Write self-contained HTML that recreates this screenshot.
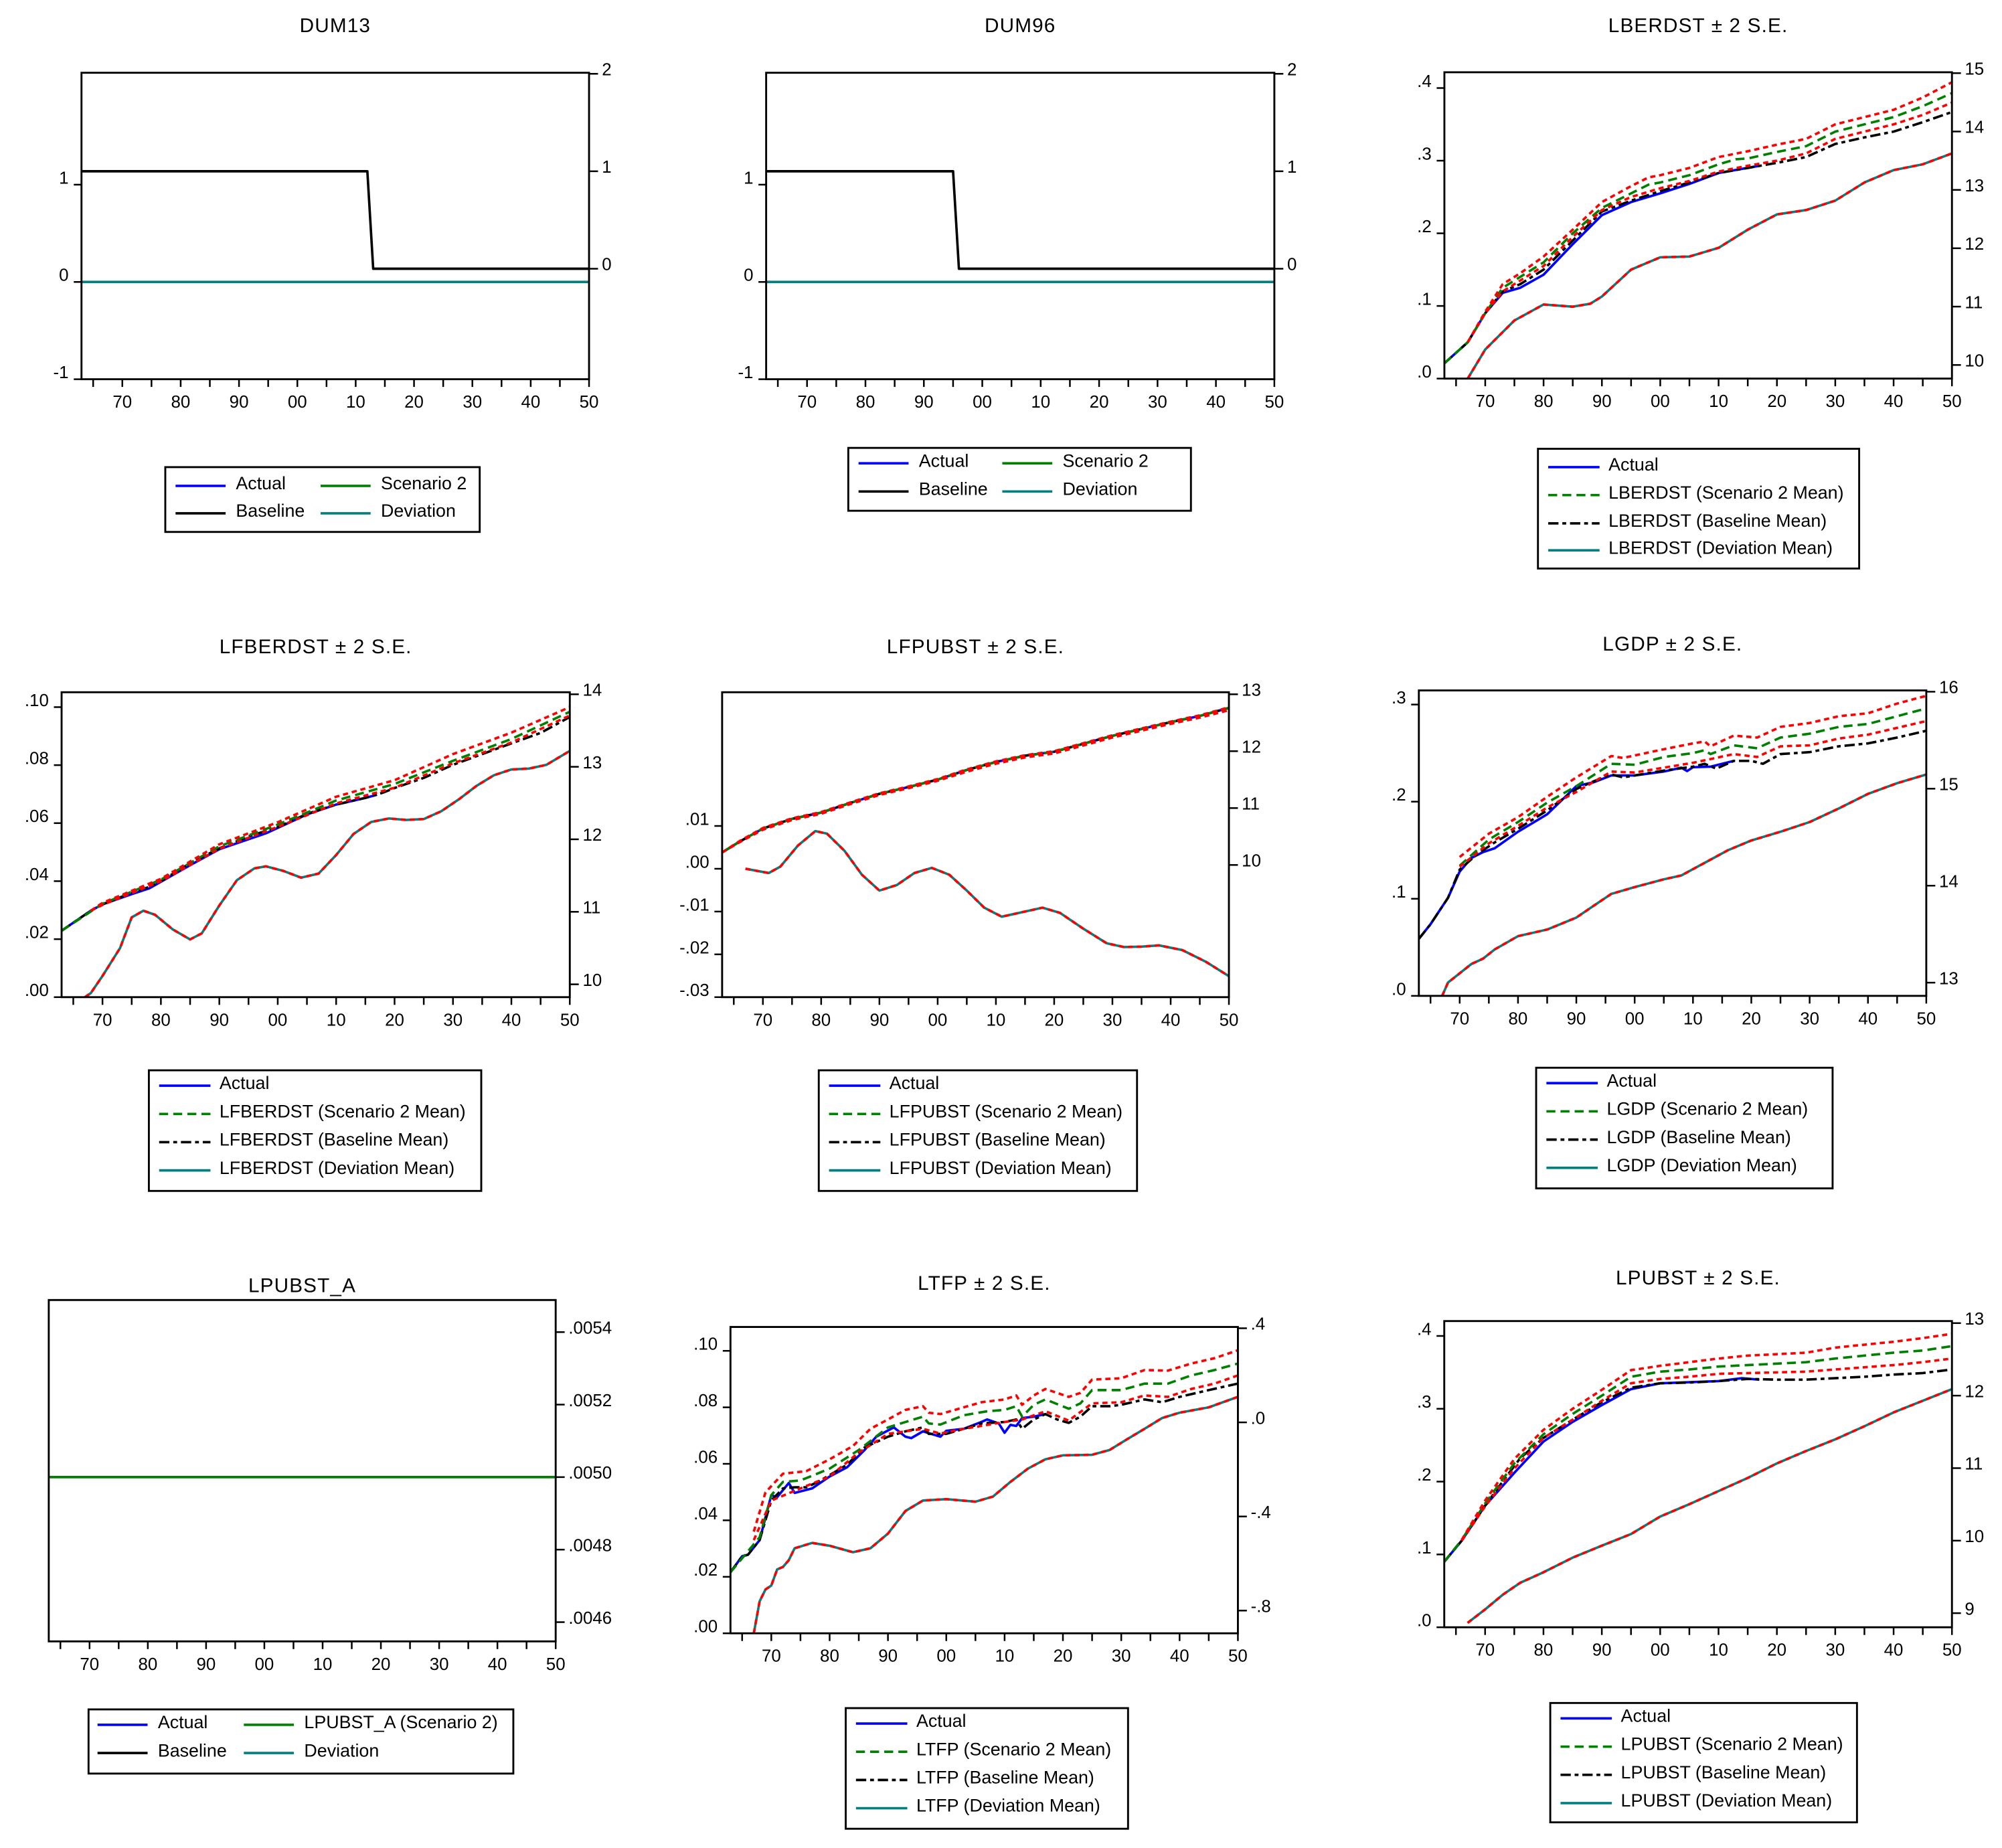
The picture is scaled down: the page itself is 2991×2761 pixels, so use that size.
<!DOCTYPE html>
<html><head><meta charset="utf-8"><style>
html,body{margin:0;padding:0;background:#fff;}
svg{display:block;}
text{font-family:"Liberation Sans",Arial,sans-serif;fill:#000;}
</style></head><body>
<svg id="fig" xmlns="http://www.w3.org/2000/svg" width="2991" height="2761" viewBox="0 0 1560 1440" preserveAspectRatio="none"></svg>
<script>
// ---------- DATA ----------
const p1BaseYears=[1963,2012,2013,2050]; const p1Base=[1,1,0,0];
const p1DevYears=[1963,2050]; const p1Dev=[0,0];
const p2BaseYears=[1963,1995,1996,2050]; const p2Base=[1,1,0,0];
const p2DevYears=[1963,2050]; const p2Dev=[0,0];
const p3BaseYears=[1963,1967,1970,1973,1976,1980,1985,1990,1995,2000,2005,2010,2015,2020,2025,2030,2035,2040,2045,2050];
const p3Base=[.021,.05,.09,.12,.13,.15,.19,.23,.245,.258,.27,.283,.29,.297,.305,.323,.332,.34,.353,.367];
const p3ActYears=[1963,1967,1970,1973,1976,1980,1985,1990,1995,2000,2005,2010,2017];
const p3Act=[.021,.05,.09,.118,.125,.143,.185,.225,.243,.255,.268,.283,.293];
const p3ScenYears=[1963,1967,1970,1973,1976,1980,1985,1990,1995,1998,2000,2005,2010,2013,2015,2020,2025,2030,2035,2040,2045,2050];
const p3Scen=[.021,.05,.09,.125,.14,.16,.2,.235,.255,.267,.27,.28,.295,.302,.303,.312,.32,.34,.35,.36,.375,.393];
const p3UpYears=[1967,1970,1973,1976,1980,1985,1990,1995,1998,2000,2005,2010,2015,2020,2025,2030,2035,2040,2045,2050];
const p3Up=[.05,.092,.13,.145,.168,.205,.243,.265,.277,.28,.29,.305,.313,.322,.33,.35,.36,.37,.387,.408];
const p3LoYears=[1967,1970,1973,1976,1980,1985,1990,1995,2000,2005,2010,2015,2020,2025,2030,2035,2040,2045,2050];
const p3Lo=[.05,.09,.12,.135,.155,.195,.232,.25,.262,.272,.285,.293,.3,.31,.33,.34,.35,.363,.38];
const p3DevYears=[1967,1970,1975,1980,1985,1988,1990,1995,2000,2005,2010,2015,2020,2025,2030,2035,2040,2045,2050];
const p3Dev=[0,.04,.08,.102,.099,.103,.113,.15,.167,.168,.18,.205,.226,.232,.245,.27,.287,.295,.31];
const p4BaseYears=[1963,1968,1970,1975,1978,1980,1985,1990,1995,2000,2005,2010,2015,2018,2020,2025,2030,2035,2040,2045,2050];
const p4Base=[.0229,.0298,.032,.036,.038,.040,.0462,.0513,.0554,.0586,.0632,.0664,.0687,.0705,.0721,.0756,.0801,.0838,.0875,.0911,.0966];
const p4ActYears=[1963,1968,1970,1975,1978,1985,1990,1998,2005,2010,2015,2017];
const p4Act=[.0229,.0298,.032,.0355,.0375,.0455,.051,.0565,.063,.0664,.0687,.0698];
const p4ScenYears=[1963,1970,1980,1990,2000,2010,2020,2030,2040,2050];
const p4Scen=[.0229,.0322,.0405,.052,.0595,.0678,.0735,.0815,.089,.0984];
const p4UpYears=[1968,1970,1980,1990,2000,2010,2020,2030,2040,2050];
const p4Up=[.0298,.0325,.0408,.0527,.0603,.0691,.0748,.0838,.0912,.100];
const p4LoYears=[1968,1970,1980,1990,2000,2010,2020,2030,2040,2050];
const p4Lo=[.0298,.0318,.040,.0512,.0587,.0668,.0722,.0806,.0878,.0971];
const p4DevYears=[1967,1968,1970,1973,1975,1977,1979,1982,1985,1987,1990,1993,1996,1998,2001,2004,2007,2010,2013,2016,2019,2022,2025,2028,2031,2034,2037,2040,2043,2046,2050];
const p4Dev=[0,.0014,.0073,.0169,.0275,.0298,.0284,.0234,.0199,.022,.0316,.0403,.0444,.0451,.0435,.0412,.0426,.049,.0563,.0604,.0616,.0611,.0614,.0641,.0682,.0728,.0765,.0785,.0788,.0801,.0849];
const p5BaseYears=[1963,1966,1970,1975,1980,1985,1990,1995,2000,2005,2010,2015,2020,2025,2030,2035,2040,2045,2050];
const p5Base=[10.22,10.41,10.64,10.81,10.92,11.09,11.25,11.37,11.5,11.67,11.81,11.92,11.99,12.13,12.27,12.39,12.51,12.62,12.76];
const p5Up=[10.22,10.42,10.65,10.82,10.93,11.1,11.26,11.38,11.51,11.68,11.82,11.93,12.0,12.14,12.28,12.4,12.52,12.63,12.77];
const p5Lo=[10.22,10.40,10.62,10.79,10.9,11.07,11.23,11.35,11.48,11.64,11.78,11.89,11.96,12.1,12.24,12.36,12.48,12.59,12.72];
const p5DevYears=[1967,1971,1973,1976,1979,1981,1984,1987,1990,1993,1996,1999,2002,2005,2008,2011,2014,2018,2021,2025,2029,2032,2035,2038,2042,2046,2050];
const p5Dev=[0,-.001,.0005,.0054,.0088,.0082,.0042,-.0014,-.0051,-.0038,-.001,.0002,-.0014,-.0051,-.0091,-.0112,-.0103,-.0091,-.0103,-.014,-.0174,-.0183,-.0182,-.0179,-.019,-.0217,-.0251];
const p6BaseYears=[1963,1965,1968,1970,1973,1976,1980,1985,1990,1993,1996,1998,2000,2005,2010,2012,2014,2017,2020,2022,2025,2030,2035,2040,2045,2050];
const p6Base=[.0587,.0738,.101,.13,.146,.158,.172,.191,.213,.221,.228,.225,.227,.232,.236,.239,.234,.242,.242,.239,.249,.251,.257,.26,.266,.273];
const p6ActYears=[1963,1965,1968,1970,1972,1974,1976,1980,1985,1990,1993,1996,2000,2005,2008,2009,2010,2013,2017];
const p6Act=[.0587,.0738,.101,.128,.142,.148,.152,.169,.187,.216,.22,.227,.227,.231,.235,.2315,.2355,.236,.242];
const p6ScenYears=[1970,1975,1980,1985,1990,1996,2000,2005,2010,2012,2013,2017,2021,2025,2030,2035,2040,2045,2050];
const p6Scen=[.134,.161,.179,.199,.216,.239,.238,.246,.25,.253,.249,.258,.255,.266,.27,.277,.28,.288,.296];
const p6UpYears=[1970,1975,1980,1985,1990,1996,1998,2005,2010,2012,2013,2017,2021,2025,2030,2035,2040,2045,2050];
const p6Up=[.143,.167,.184,.205,.225,.247,.245,.254,.26,.262,.257,.268,.266,.277,.281,.288,.291,.301,.309];
const p6LoYears=[1970,1975,1980,1985,1990,1996,2000,2010,2017,2021,2025,2030,2035,2040,2045,2050];
const p6Lo=[.133,.157,.175,.194,.21,.231,.23,.24,.249,.246,.257,.258,.265,.269,.276,.283];
const p6DevYears=[1967,1968,1970,1972,1974,1976,1980,1985,1990,1993,1996,2000,2005,2008,2012,2016,2020,2025,2030,2035,2040,2045,2050];
const p6Dev=[0,.0137,.0232,.0328,.0383,.0478,.0615,.0683,.0806,.0929,.105,.112,.12,.124,.137,.15,.16,.169,.179,.193,.208,.219,.228];
const p7ScenYears=[1963,2050]; const p7Scen=[.0050,.0050];
const p8BaseYears=[1963,1965,1966,1968,1970,1972,1974,1976,1978,1980,1983,1986,1990,1993,1996,1997,2000,2003,2006,2010,2012,2013,2015,2017,2019,2021,2023,2025,2028,2030,2034,2037,2040,2045,2050];
const p8Base=[.0216,.0273,.0278,.033,.047,.0513,.0517,.0517,.0536,.056,.0597,.0658,.0696,.0715,.0729,.0706,.0706,.0724,.0743,.0748,.0757,.0724,.0757,.0776,.0757,.0745,.0767,.0804,.0804,.0809,.0828,.0818,.0837,.0861,.0884];
const p8ActYears=[1963,1965,1966,1968,1970,1971,1973,1974,1977,1980,1983,1986,1988,1991,1993,1994,1996,1999,2000,2003,2006,2007,2009,2010,2011,2012,2013,2015,2017];
const p8Act=[.0216,.0273,.0278,.033,.0489,.0482,.0532,.0497,.0513,.0555,.0588,.0649,.0696,.0729,.0696,.0691,.0715,.0696,.0717,.0724,.0748,.0757,.0743,.071,.0738,.0734,.0762,.0767,.0776];
const p8ScenYears=[1963,1968,1970,1972,1975,1980,1985,1990,1993,1996,1997,1999,2003,2007,2010,2012,2013,2015,2017,2021,2023,2025,2030,2034,2038,2042,2046,2050];
const p8Scen=[.0216,.034,.0489,.0536,.0541,.0583,.0649,.0729,.0748,.0767,.0743,.0739,.0772,.0786,.0791,.0804,.0767,.0809,.0828,.0795,.0814,.0861,.0861,.0884,.0884,.0913,.0932,.0955];
const p8UpYears=[1967,1969,1972,1976,1980,1984,1987,1990,1993,1996,1997,1999,2003,2006,2010,2012,2013,2015,2017,2021,2023,2025,2030,2034,2038,2042,2046,2050];
const p8Up=[.036,.0499,.0565,.0574,.0616,.0663,.0724,.0757,.0791,.0804,.0781,.0776,.08,.0818,.0828,.0842,.0809,.0842,.0865,.0837,.0851,.0898,.0903,.0932,.093,.0955,.0974,.1002];
const p8LoYears=[1967,1970,1975,1980,1985,1990,1996,1999,2003,2010,2013,2017,2021,2025,2030,2034,2038,2042,2046,2050];
const p8Lo=[.033,.047,.0513,.0555,.064,.0706,.0724,.0707,.0724,.0748,.0757,.0786,.0753,.0814,.0818,.0842,.0837,.0865,.0884,.0913];
const p8DevYears=[1967,1968,1969,1970,1971,1972,1973,1974,1977,1980,1984,1987,1990,1993,1996,2000,2005,2008,2011,2014,2017,2020,2025,2028,2031,2034,2037,2040,2045,2050];
const p8Dev=[0,.0113,.0155,.0169,.0226,.0235,.0259,.0301,.032,.031,.0287,.0301,.0353,.0433,.047,.0475,.0466,.0484,.0536,.0583,.0616,.063,.0632,.0649,.0687,.0724,.0762,.0781,.08,.0837];
const p9BaseYears=[1963,1966,1970,1973,1976,1980,1985,1990,1995,2000,2005,2010,2015,2020,2025,2030,2035,2040,2045,2050];
const p9Base=[.09,.119,.167,.2,.232,.26,.285,.309,.329,.335,.336,.338,.341,.34,.34,.342,.344,.347,.349,.354];
const p9ActYears=[1963,1966,1970,1975,1980,1985,1990,1995,2000,2010,2014,2017];
const p9Act=[.09,.119,.167,.212,.255,.282,.305,.327,.335,.338,.342,.34];
const p9ScenYears=[1963,1966,1970,1975,1980,1985,1990,1995,2000,2005,2010,2015,2020,2025,2030,2035,2040,2045,2050];
const p9Scen=[.09,.12,.17,.225,.265,.293,.318,.344,.351,.354,.358,.36,.362,.364,.369,.373,.377,.38,.386];
const p9UpYears=[1966,1970,1975,1980,1985,1990,1995,2000,2005,2010,2015,2020,2025,2030,2035,2040,2045,2050];
const p9Up=[.12,.174,.231,.271,.3,.326,.353,.359,.364,.369,.373,.375,.377,.384,.388,.392,.397,.403];
const p9LoYears=[1966,1970,1975,1980,1985,1990,1995,2000,2005,2010,2015,2020,2025,2030,2035,2040,2045,2050];
const p9Lo=[.119,.166,.218,.26,.285,.311,.335,.341,.344,.348,.349,.35,.351,.354,.357,.36,.364,.369];
const p9DevYears=[1967,1970,1973,1976,1980,1985,1990,1995,2000,2005,2010,2015,2020,2025,2030,2035,2040,2045,2050];
const p9Dev=[.006,.0245,.0445,.061,.0755,.0956,.112,.128,.152,.169,.187,.205,.225,.242,.258,.276,.295,.311,.327];

const xTickYears=[1970,1980,1990,2000,2010,2020,2030,2040,2050];
const xTickLabels=['70','80','90','00','10','20','30','40','50'];

// ---------- LAYOUT ----------
const svg=document.getElementById('fig');
const NS='http://www.w3.org/2000/svg';
function mk(tag,attrs,parent){const e=document.createElementNS(NS,tag);for(const k in attrs)e.setAttribute(k,attrs[k]);(parent||svg).appendChild(e);return e;}

const COL={blue:'#0000ff',green:'#008000',black:'#000000',teal:'#008080',red:'#ff0000'};
const DASH={solid:'',green:'7,4',black:'8,3,3,3',red:'4,3'};
const LW=1.9;

const panels=[
 {id:'dum13',title:'DUM13',box:[63.5,56.7,459,295.5],titleY:20,
  left:{a:[1,143.9],b:[-1,295.5],ticks:[-1,0,1],labels:['-1','0','1']},
  right:{a:[2,57.5],b:[0,209.4],ticks:[0,1,2],labels:['0','1','2']}},
 {id:'dum96',title:'DUM96',box:[597,56.7,993,295.5],titleY:20,
  left:{a:[1,143.9],b:[-1,295.5],ticks:[-1,0,1],labels:['-1','0','1']},
  right:{a:[2,57.5],b:[0,209.4],ticks:[0,1,2],labels:['0','1','2']}},
 {id:'lberdst',title:'LBERDST ± 2 S.E.',box:[1125.5,56.3,1521,295],titleY:20,
  left:{a:[.4,68.6],b:[0,295],ticks:[0,.1,.2,.3,.4],labels:['.0','.1','.2','.3','.4']},
  right:{a:[15,57],b:[10,284.4],ticks:[10,11,12,13,14,15],labels:['10','11','12','13','14','15']}},
 {id:'lfberdst',title:'LFBERDST ± 2 S.E.',box:[48,539.4,444,777],titleY:504,
  left:{a:[.1,551],b:[0,777],ticks:[0,.02,.04,.06,.08,.1],labels:['.00','.02','.04','.06','.08','.10']},
  right:{a:[14,541],b:[10,767],ticks:[10,11,12,13,14],labels:['10','11','12','13','14']}},
 {id:'lfpubst',title:'LFPUBST ± 2 S.E.',box:[562.7,539.4,957.6,777],titleY:504,
  left:{a:[.01,643.6],b:[-.03,777],ticks:[-.03,-.02,-.01,0,.01],labels:['-.03','-.02','-.01','.00','.01']},
  right:{a:[13,541],b:[10,674],ticks:[10,11,12,13],labels:['10','11','12','13']}},
 {id:'lgdp',title:'LGDP ± 2 S.E.',box:[1105.6,538,1501,776],titleY:502,
  left:{a:[.3,549],b:[0,776],ticks:[0,.1,.2,.3],labels:['.0','.1','.2','.3']},
  right:{a:[16,539],b:[13,765.7],ticks:[13,14,15,16],labels:['13','14','15','16']}},
 {id:'lpubst-a',title:'LPUBST_A',box:[38,1013,433,1279],titleY:1002,
  left:null,
  right:{a:[.0054,1038],b:[.0046,1264],ticks:[.0046,.0048,.005,.0052,.0054],labels:['.0046','.0048','.0050','.0052','.0054']}},
 {id:'ltfp',title:'LTFP ± 2 S.E.',box:[569.2,1034,964.6,1272.7],titleY:1000,
  left:{a:[.1,1052.6],b:[0,1272.7],ticks:[0,.02,.04,.06,.08,.1],labels:['.00','.02','.04','.06','.08','.10']},
  right:{a:[.4,1035],b:[-.8,1255],ticks:[-.8,-.4,0,.4],labels:['-.8','-.4','.0','.4']}},
 {id:'lpubst',title:'LPUBST ± 2 S.E.',box:[1125.4,1029.4,1521,1268],titleY:996,
  left:{a:[.4,1041],b:[0,1268],ticks:[0,.1,.2,.3,.4],labels:['.0','.1','.2','.3','.4']},
  right:{a:[13,1031],b:[9,1257],ticks:[9,10,11,12,13],labels:['9','10','11','12','13']}}
];

function yMap(ax,v){return ax.a[1]+(v-ax.a[0])*(ax.b[1]-ax.a[1])/(ax.b[0]-ax.a[0]);}
function xMap(p,yr){const[x0,,x1]=p.box;return x0+(yr-1963)*(x1-x0)/87;}

function drawPanel(p){
  const g=mk('g',{});
  
  
  p.g=g;
  const[x0,y0,x1,y1]=p.box;
  const cp=mk('clipPath',{id:'clip-'+p.id},g);
  mk('rect',{x:x0,y:y0,width:x1-x0,height:y1-y0},cp);
  const t=mk('text',{x:(x0+x1)/2,y:p.titleY,'text-anchor':'middle','dominant-baseline':'central','font-size':15.5,'letter-spacing':0.6},g);
  t.textContent=p.title;
  
  
  p.series=mk('g',{'clip-path':'url(#clip-'+p.id+')'},g);
  const frame=mk('rect',{x:x0,y:y0,width:x1-x0,height:y1-y0,fill:'none',stroke:'#000','stroke-width':1.5},g);
  
  
  for(let yr=1965;yr<=2050;yr+=5){
    const x=xMap(p,yr);
    const tk=mk('line',{x1:x,x2:x,y1:y1,y2:y1+6,stroke:'#000','stroke-width':1.3},g);
    
    
  }
  xTickYears.forEach((yr,i)=>{
    const lb=mk('text',{x:xMap(p,yr),y:y1+18,'text-anchor':'middle','dominant-baseline':'central','font-size':13.5},g);
    lb.textContent=xTickLabels[i];
    
    
  });
  if(p.left){
    p.left.ticks.forEach((v,i)=>{
      const y=yMap(p.left,v);
      const tk=mk('line',{x1:x0-6,x2:x0,y1:y,y2:y,stroke:'#000','stroke-width':1.3},g);
      
      
      const lb=mk('text',{x:x0-10,y:y-5,'text-anchor':'end','dominant-baseline':'central','font-size':13.5},g);
      lb.textContent=p.left.labels[i];
      
      
    });
  }
  p.right.ticks.forEach((v,i)=>{
    const y=yMap(p.right,v);
    const tk=mk('line',{x1:x1,x2:x1+7,y1:y,y2:y,stroke:'#000','stroke-width':1.3},g);
    
    
    const lb=mk('text',{x:x1+10,y:y-3,'text-anchor':'start','dominant-baseline':'central','font-size':13.5},g);
    lb.textContent=p.right.labels[i];
    
    
  });
}

function line(p,years,vals,axisName,color,dash,name){
  const ax=axisName==='right'?p.right:p.left;
  const pts=years.map((yr,i)=>xMap(p,yr).toFixed(2)+','+yMap(ax,vals[i]).toFixed(2)).join(' ');
  const pl=mk('polyline',{points:pts,fill:'none',stroke:COL[color],'stroke-width':LW,'stroke-linejoin':'round'},p.series);
  if(DASH[dash])pl.setAttribute('stroke-dasharray',DASH[dash]);
  
  
}

function legend2(p,bx,by,w,h,rows,c1,c2,labels){
  const g=mk('g',{},p.g);
  
  
  mk('rect',{x:bx,y:by,width:w,height:h,fill:'#fff',stroke:'#000','stroke-width':1.5},g);
  const items=[[c1,rows[0],'blue'],[c2,rows[0],'green'],[c1,rows[1],'black'],[c2,rows[1],'teal']];
  items.forEach((it,i)=>{
    const l=mk('line',{x1:bx+it[0],x2:bx+it[0]+39,y1:it[1],y2:it[1],stroke:COL[it[2]],'stroke-width':LW},g);
    
    
    const t=mk('text',{x:bx+it[0]+47,y:it[1]-2,'dominant-baseline':'central','font-size':14},g);
    t.textContent=labels[i];
    
    
  });
}
function legend4(p,bx,by,w,h,rows,name){
  const g=mk('g',{},p.g);
  
  
  mk('rect',{x:bx,y:by,width:w,height:h,fill:'#fff',stroke:'#000','stroke-width':1.5},g);
  const items=[['blue','solid','Actual'],['green','green',name+' (Scenario 2 Mean)'],['black','black',name+' (Baseline Mean)'],['teal','solid',name+' (Deviation Mean)']];
  items.forEach((it,i)=>{
    const l=mk('line',{x1:bx+8,x2:bx+48,y1:rows[i],y2:rows[i],stroke:COL[it[0]],'stroke-width':LW},g);
    if(DASH[it[1]])l.setAttribute('stroke-dasharray',DASH[it[1]]);
    
    
    const t=mk('text',{x:bx+55,y:rows[i]-2,'dominant-baseline':'central','font-size':14},g);
    t.textContent=it[2];
    
    
  });
}

panels.forEach(drawPanel);
const P={};panels.forEach(p=>P[p.id]=p);

line(P['dum13'],p1DevYears,p1Dev,'left','teal','solid','dum13-deviation-line');
line(P['dum13'],p1BaseYears,p1Base,'right','black','solid','dum13-baseline-line');
legend2(P['dum13'],128.8,364,245,50.5,[378.6,400],8,121,['Actual','Scenario 2','Baseline','Deviation']);
line(P['dum96'],p2DevYears,p2Dev,'left','teal','solid','dum96-deviation-line');
line(P['dum96'],p2BaseYears,p2Base,'right','black','solid','dum96-baseline-line');
legend2(P['dum96'],661,349,267,49,[361,383],8,120,['Actual','Scenario 2','Baseline','Deviation']);

function fullSet(p,ay,a,by,b,sy,s,uy,u,ly,l,dy,d,mainAx,devAx){
  line(p,dy,d,devAx,'teal','solid',p.id+'-deviation-line');
  line(p,dy,d,devAx,'red','red',p.id+'-deviation-band');
  if(ay)line(p,ay,a,mainAx,'blue','solid',p.id+'-actual-line');
  line(p,by,b,mainAx,'black','black',p.id+'-baseline-line');
  line(p,sy,s,mainAx,'green','green',p.id+'-scenario-line');
  line(p,uy,u,mainAx,'red','red',p.id+'-upper-band');
  line(p,ly,l,mainAx,'red','red',p.id+'-lower-band');
}
fullSet(P['lberdst'],p3ActYears,p3Act,p3BaseYears,p3Base,p3ScenYears,p3Scen,p3UpYears,p3Up,p3LoYears,p3Lo,p3DevYears,p3Dev,'left','left');
legend4(P['lberdst'],1198.4,349.7,250.3,93.3,[364,385.8,407.8,428.8],'LBERDST');
fullSet(P['lfberdst'],p4ActYears,p4Act,p4BaseYears,p4Base,p4ScenYears,p4Scen,p4UpYears,p4Up,p4LoYears,p4Lo,p4DevYears,p4Dev,'left','left');
legend4(P['lfberdst'],116,834,259,94,[846,868,890,912],'LFBERDST');
fullSet(P['lfpubst'],p5BaseYears,p5Base,p5BaseYears,p5Base,p5BaseYears,p5Base,p5BaseYears,p5Up,p5BaseYears,p5Lo,p5DevYears,p5Dev,'right','left');
legend4(P['lfpubst'],638,834,248,94,[846,868,890,912],'LFPUBST');
fullSet(P['lgdp'],p6ActYears,p6Act,p6BaseYears,p6Base,p6ScenYears,p6Scen,p6UpYears,p6Up,p6LoYears,p6Lo,p6DevYears,p6Dev,'left','left');
legend4(P['lgdp'],1197,832,231,94,[844,866,888,910],'LGDP');
line(P['lpubst-a'],p7ScenYears,p7Scen,'right','green','solid','lpubst-a-scenario-line');
legend2(P['lpubst-a'],69,1332,331,50,[1344,1366],7,121,['Actual','LPUBST_A (Scenario 2)','Baseline','Deviation']);
fullSet(P['ltfp'],p8ActYears,p8Act,p8BaseYears,p8Base,p8ScenYears,p8Scen,p8UpYears,p8Up,p8LoYears,p8Lo,p8DevYears,p8Dev,'left','left');
legend4(P['ltfp'],659,1331,220,94,[1343,1365,1387,1409],'LTFP');
fullSet(P['lpubst'],p9ActYears,p9Act,p9BaseYears,p9Base,p9ScenYears,p9Scen,p9UpYears,p9Up,p9LoYears,p9Lo,p9DevYears,p9Dev,'left','left');
legend4(P['lpubst'],1208,1327,239,93,[1339,1361,1383,1405],'LPUBST');
</script>
</body></html>
